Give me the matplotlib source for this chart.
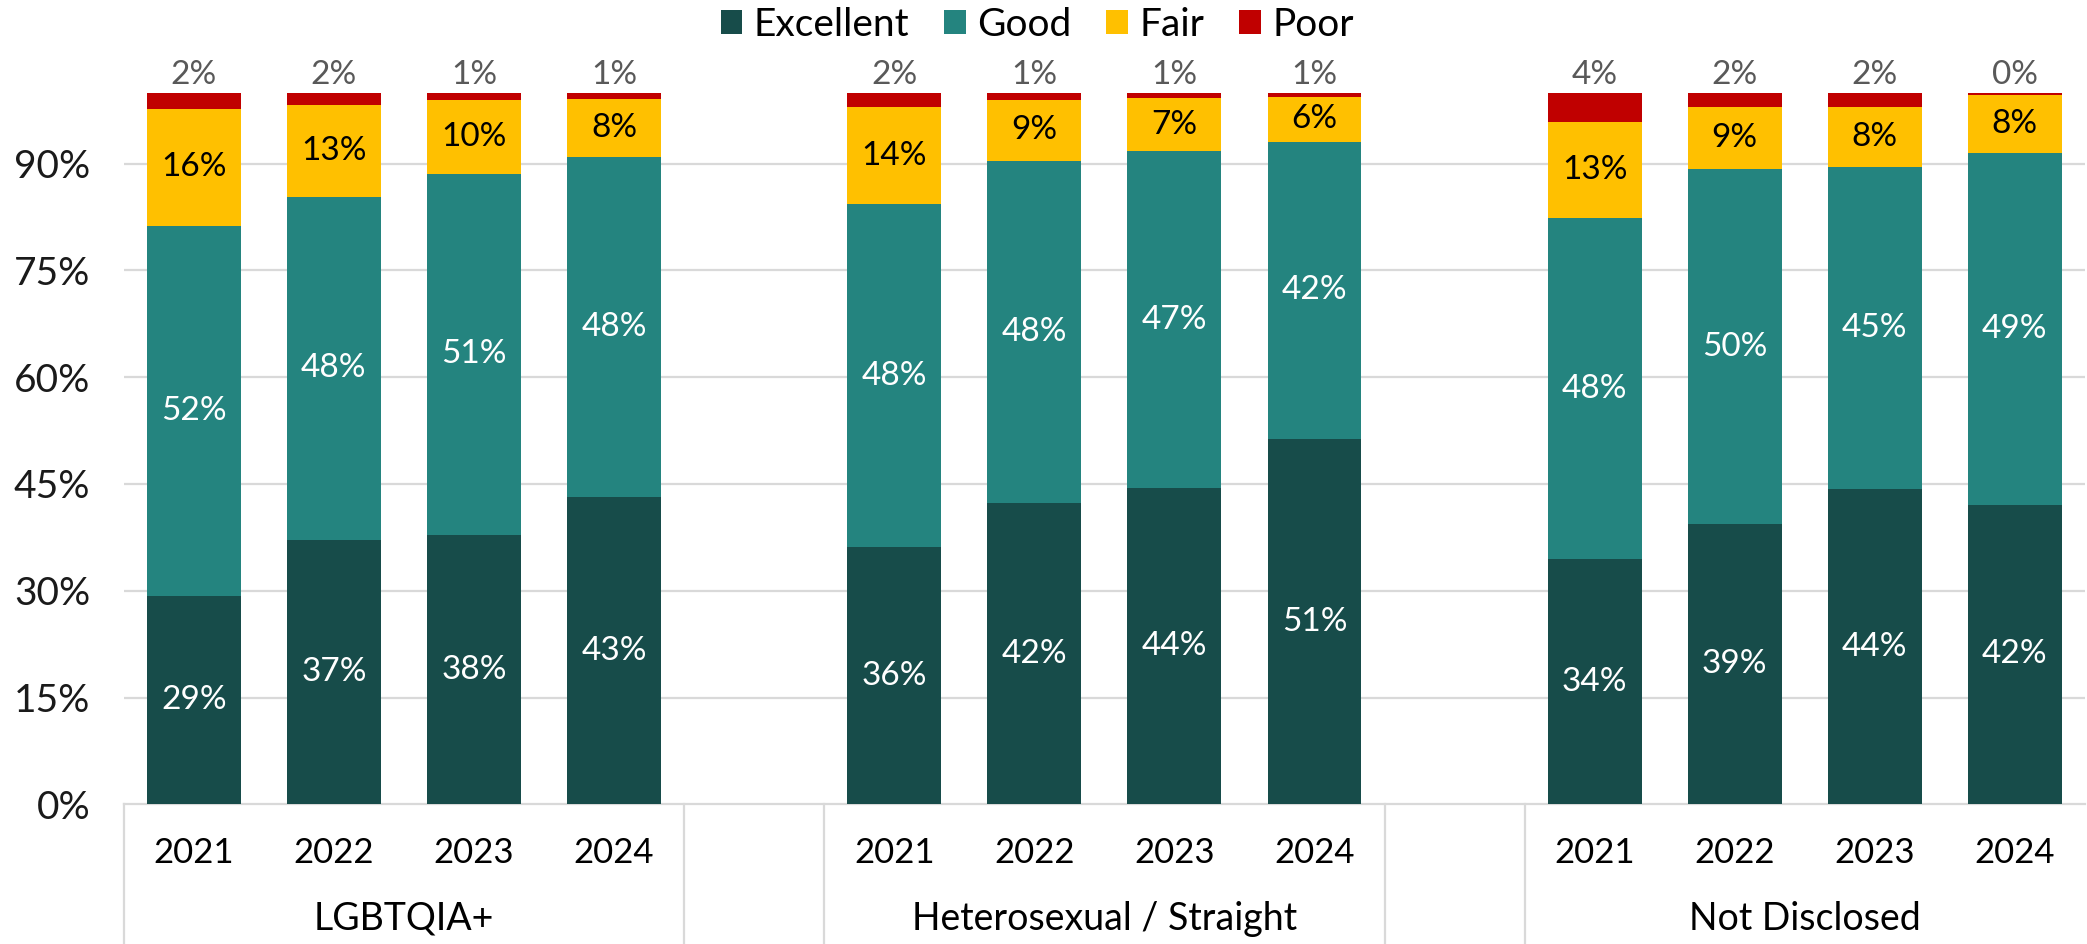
import matplotlib
matplotlib.use('Agg')
import matplotlib.pyplot as plt
from matplotlib.transforms import blended_transform_factory
from matplotlib.patches import Patch
from matplotlib.lines import Line2D

plt.rcParams['font.family'] = ['Lato', 'DejaVu Sans']

groups = ['LGBTQIA+', 'Heterosexual / Straight', 'Not Disclosed']
years = ['2021', '2022', '2023', '2024']
series_names = ['Excellent', 'Good', 'Fair', 'Poor']
excellent = [29.2, 37.2, 37.8, 43.2, 36.1, 42.3, 44.4, 51.3, 34.4, 39.4, 44.3, 42.1]
good = [52.1, 48.1, 50.8, 47.7, 48.2, 48.1, 47.4, 41.8, 48.0, 49.8, 45.2, 49.4]
fair = [16.4, 12.9, 10.4, 8.2, 13.7, 8.6, 7.4, 6.3, 13.4, 8.7, 8.4, 8.1]
poor = [2.3, 1.8, 1.0, 0.9, 2.0, 1.0, 0.8, 0.6, 4.2, 2.1, 2.1, 0.4]
yticks = [0, 15, 30, 45, 60, 75, 90]

colors = ['#174C4A', '#24847F', '#FFC000', '#C00000']
label_colors = ['white', 'white', 'black', '#595959']

W, H = 2087, 944
fig = plt.figure(figsize=(W / 100, H / 100), dpi=100)
ax = fig.add_axes([93 / 1568, 0.148, 1 - 93 / 1568 - 0.001, 0.902 - 0.148])

n_years = len(years)
slot = n_years + 1
xpos = [g * slot + i for g in range(len(groups)) for i in range(n_years)]

series = [excellent, good, fair, poor]
bottom = [0.0] * len(xpos)
fs = 24
for k, vals in enumerate(series):
    ax.bar(xpos, vals, width=0.67, bottom=bottom, color=colors[k], zorder=3,
           label=series_names[k])
    for x, b, v in zip(xpos, bottom, vals):
        if k < 3:
            ax.text(x, b + v / 2, f"{v:.0f}%", ha='center', va='center',
                    color=label_colors[k], fontsize=fs, zorder=4)
        else:
            ax.text(x, 102.4, f"{v:.0f}%", ha='center', va='center',
                    color=label_colors[k], fontsize=fs, zorder=4, clip_on=False)
    bottom = [b + v for b, v in zip(bottom, vals)]

ax.set_ylim(0, 100)
ax.set_xlim(-0.5, len(groups) * slot - 1.5)
ax.set_yticks(yticks)
ax.set_yticklabels([f"{t}%" for t in yticks], fontsize=28, color='#1a1a1a')
ax.tick_params(axis='y', length=0, pad=24)
ax.set_xticks([])
for t in yticks[1:]:
    ax.axhline(t, color='#D9D9D9', lw=1.6, zorder=1)
for s in ['top', 'right', 'left']:
    ax.spines[s].set_visible(False)
ax.spines['bottom'].set_color('#D9D9D9')
ax.spines['bottom'].set_linewidth(1.6)

tr = blended_transform_factory(ax.transData, fig.transFigure)
ax_bottom = 0.148
for x, yl in zip(xpos, years * len(groups)):
    ax.text(x, 0.096, yl, transform=tr, ha='center', va='center',
            fontsize=25, color='black')
for g, name in enumerate(groups):
    ax.text(g * slot + (n_years - 1) / 2, 0.027, name, transform=tr,
            ha='center', va='center', fontsize=27, color='black')

sep = [-0.5]
for g in range(len(groups) - 1):
    sep += [g * slot + n_years - 0.5, g * slot + n_years + 0.5]
for x in sep:
    fig.add_artist(Line2D([x, x], [0, ax_bottom], transform=tr,
                          color='#D9D9D9', lw=1.6))

handles = [Patch(facecolor=c, label=n) for c, n in zip(colors, series_names)]
fig.legend(handles=handles, loc='center', bbox_to_anchor=(0.497, 0.974),
           ncol=4, frameon=False, fontsize=28, handlelength=0.55,
           handleheight=0.55, handletextpad=0.3, columnspacing=0.9,
           borderaxespad=0, borderpad=0)

fig.savefig('out.png', dpi=100)
